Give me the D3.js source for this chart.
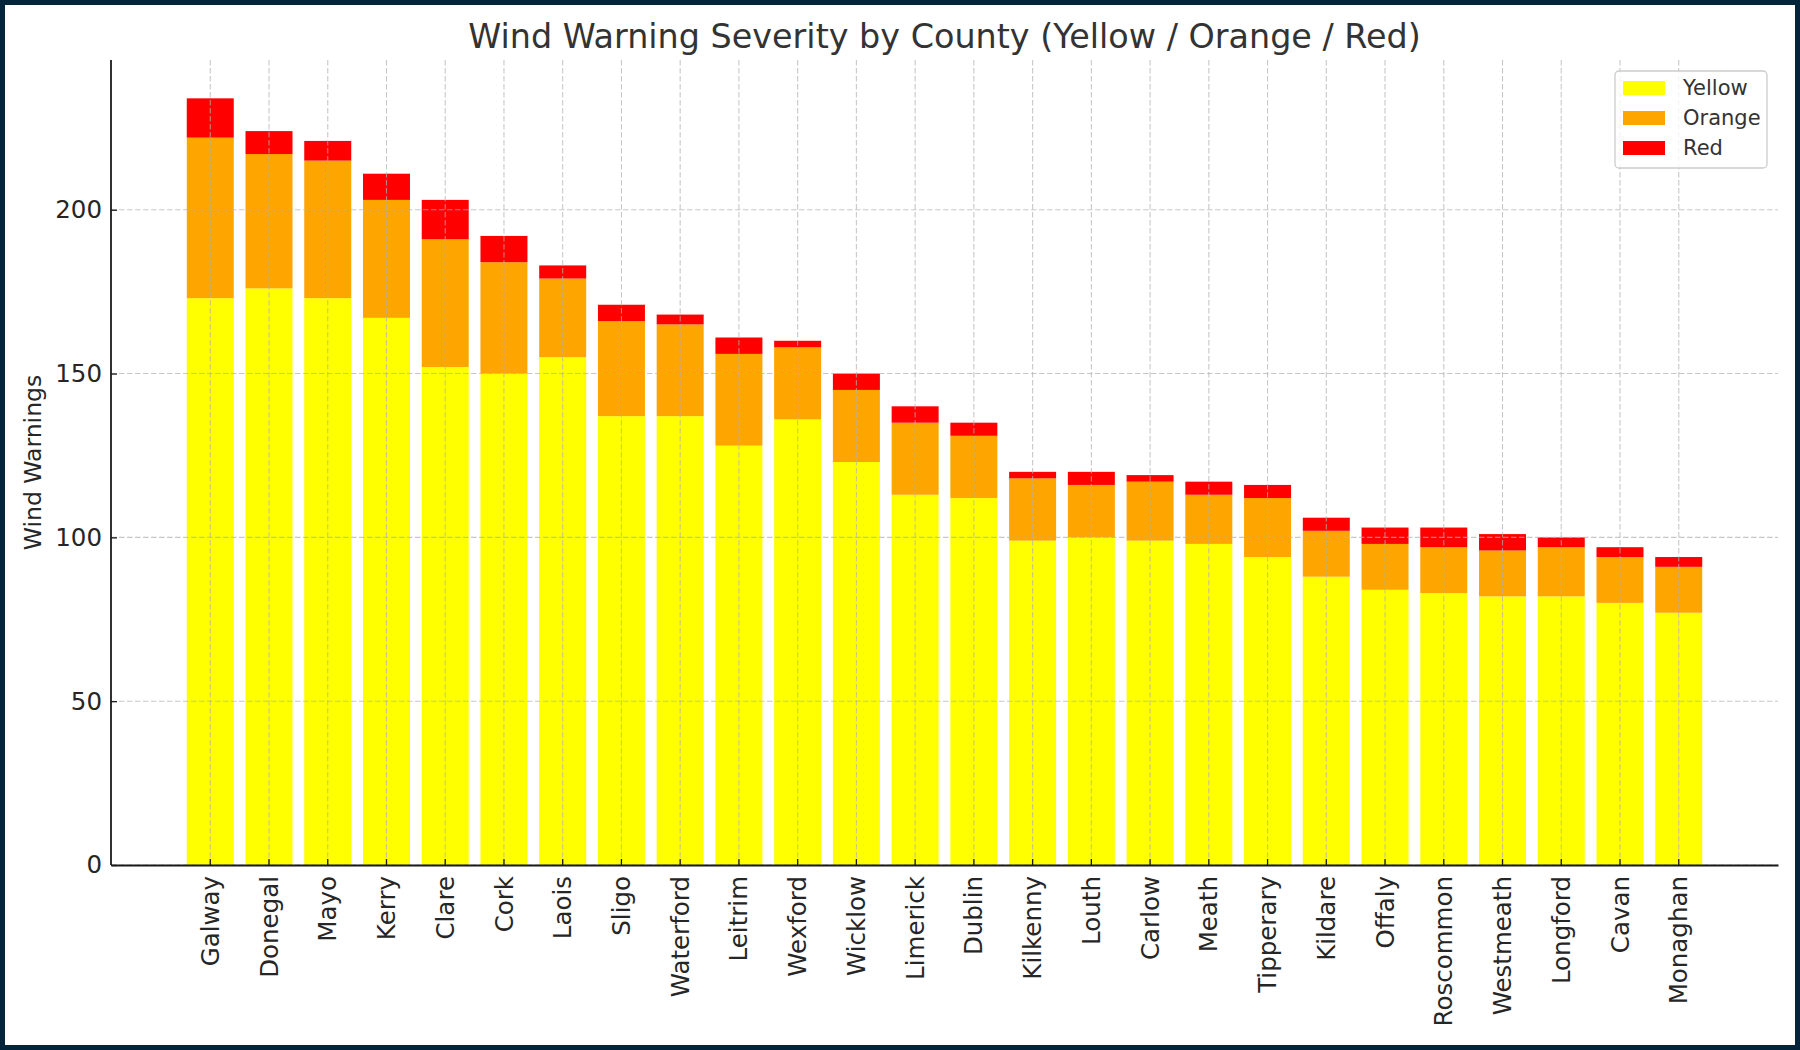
<!DOCTYPE html>
<html>
<head>
<meta charset="utf-8">
<script src="https://cdn.jsdelivr.net/npm/d3@7"></script>
<style>
    body { margin: 0; background: #ffffff; }
    svg { display: block; font-family: 'DejaVu Sans', sans-serif; }
</style>
</head>
<body>
<script>
var counties = [ 'Galway', 'Donegal', 'Mayo', 'Kerry', 'Clare', 'Cork', 'Laois', 'Sligo',
                 'Waterford', 'Leitrim', 'Wexford', 'Wicklow', 'Limerick', 'Dublin', 'Kilkenny',
                 'Louth', 'Carlow', 'Meath', 'Tipperary', 'Kildare', 'Offaly', 'Roscommon',
                 'Westmeath', 'Longford', 'Cavan', 'Monaghan' ];
var yellowWarnings = [ 173, 176, 173, 167, 152, 150, 155, 137, 137, 128, 136, 123, 113,
                       112, 99, 100, 99, 98, 94, 88, 84, 83, 82, 82, 80, 77 ];
var orangeWarnings = [ 49, 41, 42, 36, 39, 34, 24, 29, 28, 28, 22, 22, 22,
                       19, 19, 16, 18, 15, 18, 14, 14, 14, 14, 15, 14, 14 ];
var redWarnings    = [ 12, 7, 6, 8, 12, 8, 4, 5, 3, 5, 2, 5, 5,
                       4, 2, 4, 2, 4, 4, 4, 5, 6, 5, 3, 3, 3 ];
var levels = [ 'Yellow', 'Orange', 'Red' ];
var levelColors = [ '#ffff00', '#ffa500', '#ff0000' ];
var yTicks = [ 0, 50, 100, 150, 200 ];

var width = 1800, height = 1050;
var margin = { left: 111, right: 22, top: 60, bottom: 185 };
var fontFamily = "'DejaVu Sans', sans-serif";

var svg = d3.select( 'body' ).append( 'svg' )
            .attr( 'width', width ).attr( 'height', height );

svg.append( 'rect' )
   .attr( 'width', width ).attr( 'height', height )
   .attr( 'fill', '#ffffff' );

// one row per county, used by d3.stack
var rows = counties.map( function( c, i ) {
    return { county: c, Yellow: yellowWarnings[i], Orange: orangeWarnings[i], Red: redWarnings[i] };
});
var series = d3.stack().keys( levels )( rows );
var maxTotal = d3.max( series[ series.length - 1 ], function( d ) { return d[1]; } );

var x = d3.scaleBand()
          .domain( counties )
          .range( [ margin.left, width - margin.right ] )
          .paddingInner( 0.2 )
          .paddingOuter( 1.29 );

var y = d3.scaleLinear()
          .domain( [ 0, maxTotal * 1.05 ] )
          .range( [ height - margin.bottom, margin.top ] );

var plot = svg.append( 'g' );

/*
 * stacked bars, yellow at the bottom
 */
plot.selectAll( 'g.layer' )
    .data( series )
    .enter()
    .append( 'g' )
    .attr( 'class', 'layer' )
    .attr( 'fill', function( d, i ) { return levelColors[i]; } )
    .selectAll( 'rect' )
    .data( function( d ) { return d; } )
    .enter()
    .append( 'rect' )
    .attr( 'x', function( d ) { return x( d.data.county ); } )
    .attr( 'width', x.bandwidth() )
    .attr( 'y', function( d ) { return y( d[1] ); } )
    .attr( 'height', function( d ) { return y( d[0] ) - y( d[1] ); } );

// dashed grid, drawn over the bars like the original
var grid = svg.append( 'g' )
              .attr( 'stroke', '#b0b0b0' )
              .attr( 'stroke-opacity', 0.7 )
              .attr( 'stroke-width', 1.1 )
              .attr( 'stroke-dasharray', '5.5,2.5' );

grid.selectAll( 'line.vgrid' )
    .data( counties )
    .enter()
    .append( 'line' )
    .attr( 'x1', function( d ) { return x( d ) + x.bandwidth() / 2; } )
    .attr( 'x2', function( d ) { return x( d ) + x.bandwidth() / 2; } )
    .attr( 'y1', y.range()[1] )
    .attr( 'y2', y.range()[0] );

grid.selectAll( 'line.hgrid' )
    .data( yTicks )
    .enter()
    .append( 'line' )
    .attr( 'x1', margin.left )
    .attr( 'x2', width - margin.right )
    .attr( 'y1', function( d ) { return y( d ); } )
    .attr( 'y2', function( d ) { return y( d ); } );

/*
 * axes: ticks point inward, only left and bottom spines
 */
var xAxis = svg.append( 'g' )
               .attr( 'transform', 'translate(0,' + y( 0 ) + ')' )
               .call( d3.axisBottom( x ).tickSize( -6 ).tickSizeOuter( 0 ).tickPadding( 11 ) )
               .attr( 'font-family', fontFamily );

xAxis.selectAll( 'text' )
     .attr( 'font-size', 24.5 )
     .attr( 'fill', '#262626' )
     .attr( 'transform', 'rotate(-90)' )
     .attr( 'text-anchor', 'end' )
     .attr( 'x', -11 )
     .attr( 'y', 0 )
     .attr( 'dy', '0.35em' );

var yAxis = svg.append( 'g' )
               .attr( 'transform', 'translate(' + margin.left + ',0)' )
               .call( d3.axisLeft( y ).tickValues( yTicks ).tickSize( -6 ).tickSizeOuter( 0 ).tickPadding( 9 ) )
               .attr( 'font-family', fontFamily );

yAxis.selectAll( 'text' )
     .attr( 'font-size', 24.5 )
     .attr( 'fill', '#262626' );

svg.selectAll( '.domain' ).attr( 'stroke', '#1a1a1a' ).attr( 'stroke-width', 1.8 );
svg.selectAll( '.tick line' ).attr( 'stroke', '#1a1a1a' ).attr( 'stroke-width', 1.3 );

// the y spine runs to the top of the plot area
yAxis.select( '.domain' ).attr( 'd', 'M0,' + y.range()[0] + 'V' + y.range()[1] );

svg.append( 'text' )
   .attr( 'x', 33 )
   .attr( 'y', ( y.range()[0] + y.range()[1] ) / 2 )
   .attr( 'transform', 'rotate(-90,33,' + ( y.range()[0] + y.range()[1] ) / 2 + ')' )
   .attr( 'text-anchor', 'middle' )
   .attr( 'dy', '0.35em' )
   .attr( 'font-size', 23.5 )
   .attr( 'fill', '#262626' )
   .text( 'Wind Warnings' );

svg.append( 'text' )
   .attr( 'x', ( margin.left + width - margin.right ) / 2 )
   .attr( 'y', 48 )
   .attr( 'text-anchor', 'middle' )
   .attr( 'font-size', 33.4 )
   .attr( 'fill', '#333333' )
   .text( 'Wind Warning Severity by County (Yellow / Orange / Red)' );

/*
 * legend box in the upper right
 */
var legend = svg.append( 'g' ).attr( 'transform', 'translate(1615,71)' );

legend.append( 'rect' )
      .attr( 'width', 152 ).attr( 'height', 97 )
      .attr( 'rx', 4 )
      .attr( 'fill', '#ffffff' ).attr( 'fill-opacity', 0.8 )
      .attr( 'stroke', '#cccccc' ).attr( 'stroke-width', 1.3 );

var items = legend.selectAll( 'g.item' )
                  .data( levels )
                  .enter()
                  .append( 'g' )
                  .attr( 'class', 'item' )
                  .attr( 'transform', function( d, i ) { return 'translate(0,' + ( 10 + i * 30 ) + ')'; } );

items.append( 'rect' )
     .attr( 'x', 8 ).attr( 'width', 42 ).attr( 'height', 14 )
     .attr( 'fill', function( d, i ) { return levelColors[i]; } );

items.append( 'text' )
     .attr( 'x', 68 ).attr( 'y', 7 )
     .attr( 'dy', '0.35em' )
     .attr( 'font-size', 21 )
     .attr( 'fill', '#333333' )
     .text( function( d ) { return d; } );

// dark frame round the picture
svg.append( 'rect' )
   .attr( 'width', width ).attr( 'height', height )
   .attr( 'fill', 'none' )
   .attr( 'stroke', '#03243a' ).attr( 'stroke-width', 10 );
</script>
</body>
</html>
